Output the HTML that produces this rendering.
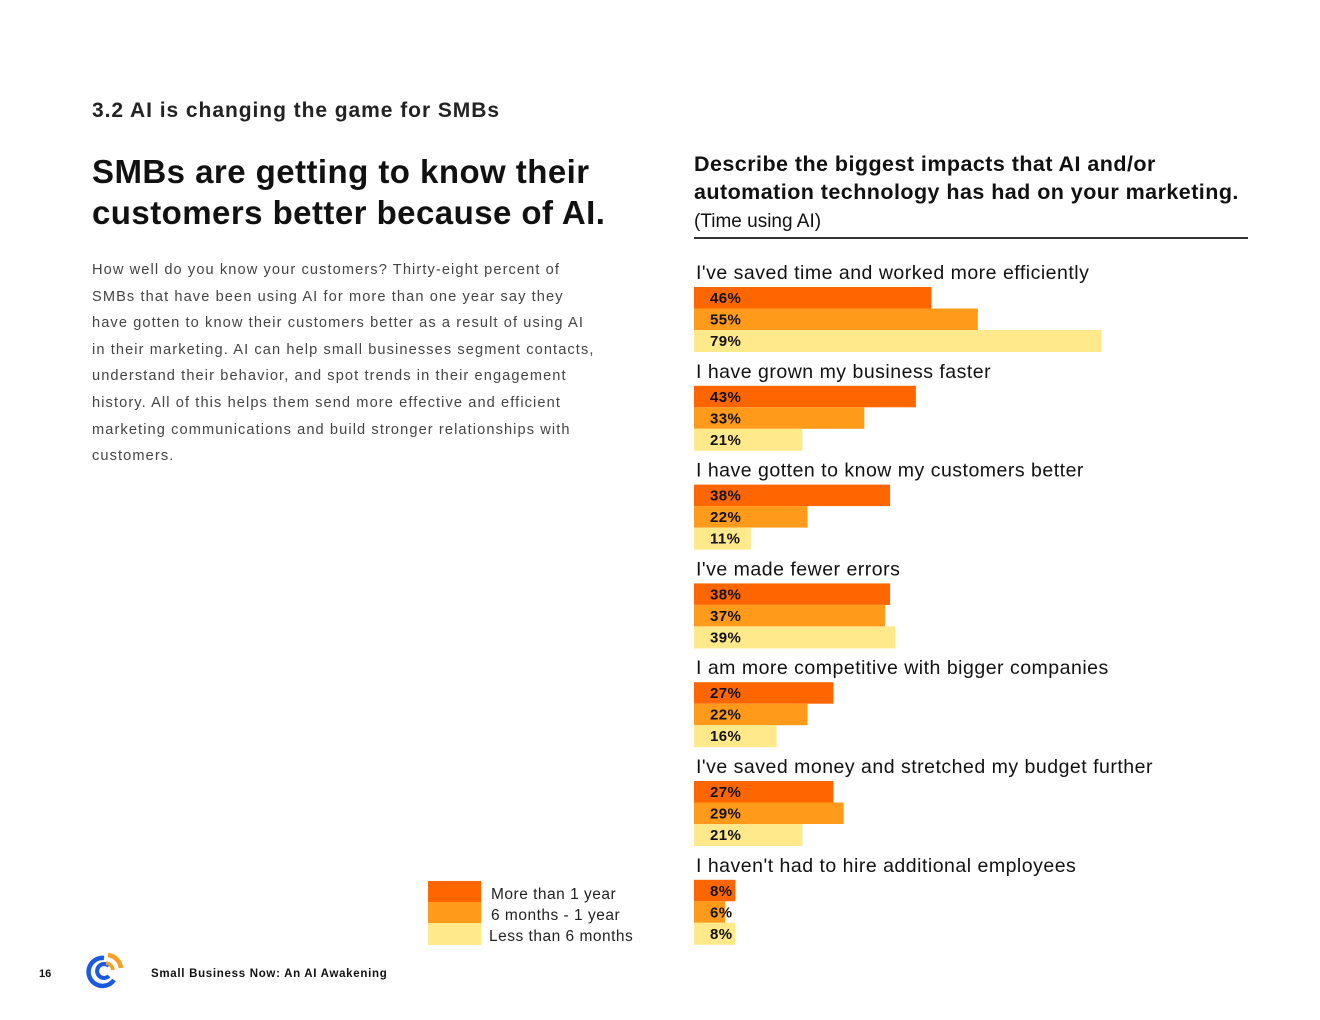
<!DOCTYPE html>
<html><head><meta charset="utf-8">
<style>
body{margin:0;background:#fff;font-family:"Liberation Sans",sans-serif;}
#page{position:relative;width:1320px;height:1020px;overflow:hidden;background:#fff;color:#111;}
.abs{position:absolute;white-space:nowrap;}
</style></head><body>
<div id="page">
<div class="abs" style="left:92px;top:99px;font-size:21px;font-weight:bold;color:#222;letter-spacing:0.95px">3.2 AI is changing the game for SMBs</div>
<div class="abs" style="left:92px;top:151px;font-size:33px;font-weight:bold;line-height:41px;color:#111;letter-spacing:0.45px">SMBs are getting to know their<br>customers better because of AI.</div>
<div class="abs" style="left:92px;top:257px;font-size:14.6px;line-height:26.6px;color:#444;white-space:nowrap;letter-spacing:1.1px">How well do you know your customers? Thirty-eight percent of<br>SMBs that have been using AI for more than one year say they<br>have gotten to know their customers better as a result of using AI<br>in their marketing. AI can help small businesses segment contacts,<br>understand their behavior, and spot trends in their engagement<br>history. All of this helps them send more effective and efficient<br>marketing communications and build stronger relationships with<br>customers.</div>
<div class="abs" style="left:694px;top:150px;font-size:21.5px;font-weight:bold;line-height:28px;color:#111;letter-spacing:0.45px">Describe the biggest impacts that AI and/or<br>automation technology has had on your marketing.</div>
<div class="abs" style="left:694px;top:211px;font-size:19px;color:#111">(Time using AI)</div>
<div class="abs" style="left:694px;top:237px;width:554px;height:1.5px;background:#333"></div>
<svg id="chart" class="abs" style="left:0;top:0" width="1320" height="1020"></svg>
<div class="abs" style="left:428px;top:881px">
<div style="position:absolute;left:0;top:0;width:53px;height:21px;background:#FF6600"></div>
<div style="position:absolute;left:0;top:21px;width:53px;height:21px;background:#FF9A1A"></div>
<div style="position:absolute;left:0;top:42px;width:53px;height:22px;background:#FFE98A"></div>
<div style="position:absolute;left:63px;top:5px;font-size:15.5px;color:#222;white-space:nowrap;letter-spacing:0.5px">More than 1 year</div>
<div style="position:absolute;left:63px;top:26px;font-size:15.5px;color:#222;white-space:nowrap;letter-spacing:0.5px">6 months - 1 year</div>
<div style="position:absolute;left:61px;top:47px;font-size:15.5px;color:#222;white-space:nowrap;letter-spacing:0.5px">Less than 6 months</div>
</div>
<div class="abs" style="left:39px;top:968px;font-size:11px;font-weight:bold">16</div>
<svg class="abs" style="left:84px;top:950px" width="42" height="42" viewBox="0 0 42 42">
<path d="M30 30 A14 14 0 1 1 20 8" fill="none" stroke="#1a5ae0" stroke-width="4.5"/>
<path d="M25 26 A7 7 0 1 1 25 16" fill="none" stroke="#1a5ae0" stroke-width="4"/>
<path d="M24 5 A15 15 0 0 1 37 18" fill="none" stroke="#f5a023" stroke-width="4.5"/>
<path d="M22 13 A8 8 0 0 1 29 20" fill="none" stroke="#f5a023" stroke-width="3.5"/>
</svg>
<div class="abs" style="left:151px;top:968px;font-size:11.5px;font-weight:bold;color:#111;letter-spacing:0.7px">Small Business Now: An AI Awakening</div>
</div>
<script>
const categories=["I've saved time and worked more efficiently","I have grown my business faster","I have gotten to know my customers better","I've made fewer errors","I am more competitive with bigger companies","I've saved money and stretched my budget further","I haven't had to hire additional employees"];
const moreThan1Year=[46,43,38,38,27,27,8];
const sixMonthsTo1Year=[55,33,22,37,22,29,6];
const lessThan6Months=[79,21,11,39,16,21,8];
const seriesNames=["more-than-1-year","6-months-1-year","less-than-6-months"];
const colors=["#FF6600","#FF9A1A","#FFE98A"];
const svg=document.getElementById('chart');
const NS='http://www.w3.org/2000/svg';
const x0=694, pxPer=5.16;
function xScale(v){return x0+v*pxPer;}
function groupTop(i){return 287+i*98.8;}
const series=[moreThan1Year,sixMonthsTo1Year,lessThan6Months];
const bh=[21.5,21.5,22];
categories.forEach((c,i)=>{
  const t=document.createElementNS(NS,'text');
  t.setAttribute('x',696);t.setAttribute('y',groupTop(i)-8);
  t.setAttribute('font-size','19.5');t.setAttribute('fill','#111');
  t.setAttribute('letter-spacing','0.5');
  t.setAttribute('font-family','"Liberation Sans",sans-serif');
  t.textContent=c;
  
  
  svg.appendChild(t);
  let y=groupTop(i);
  series.forEach((s,k)=>{
    const r=document.createElementNS(NS,'rect');
    r.setAttribute('x',x0);r.setAttribute('y',y);
    r.setAttribute('width',xScale(s[i])-x0);r.setAttribute('height',bh[k]);
    r.setAttribute('fill',colors[k]);
    
    
    svg.appendChild(r);
    const l=document.createElementNS(NS,'text');
    l.setAttribute('x',710);l.setAttribute('y',y+16);
    l.setAttribute('font-size','15');l.setAttribute('font-weight','bold');l.setAttribute('fill','#111');
    l.setAttribute('letter-spacing','0.4');
    l.setAttribute('font-family','"Liberation Sans",sans-serif');
    l.textContent=s[i]+'%';
    
    
    svg.appendChild(l);
    y+=bh[k];
  });
});
</script>
</body></html>
